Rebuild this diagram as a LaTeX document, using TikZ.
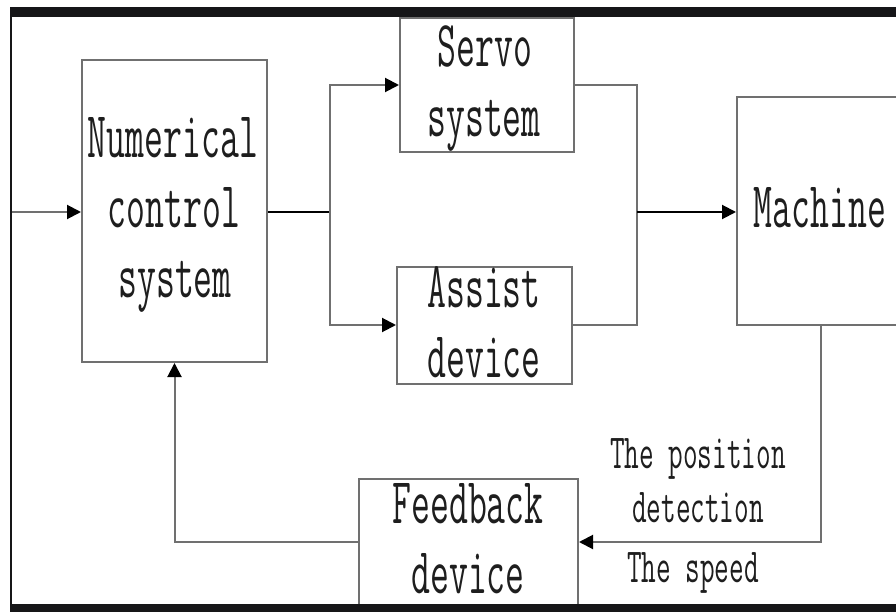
\documentclass[tikz,border=0pt]{standalone}
\usepackage{fontspec}
\newfontfamily\bigf[FakeStretch=0.56]{Latin Modern Mono}
\newfontfamily\smallf[FakeStretch=0.58]{Latin Modern Mono}
\usetikzlibrary{arrows.meta}
\definecolor{linegray}{RGB}{112,112,112}
\definecolor{txt}{RGB}{30,30,30}
\definecolor{framec}{RGB}{22,22,24}
\begin{document}
\begin{tikzpicture}[x=1pt,y=-1pt,
  box/.style={draw=linegray,line width=2pt,rectangle,inner sep=0pt},
  word/.style={text=txt,inner sep=0pt,anchor=base,font=\bigf\fontsize{65.5}{70}\selectfont},
  conn/.style={draw=linegray,line width=2pt},
  arr/.style={draw=linegray,line width=2pt,-{Triangle[length=14pt,width=14pt,color=black]}},
  lbl/.style={text=txt,inner sep=0pt,anchor=base,font=\smallf\fontsize{49}{54}\selectfont}]
\useasboundingbox (0,0) rectangle (896,612);
% boxes
\node[box,minimum width=185pt,minimum height=302pt] (nc) at (174.5,211) {};
\node[box,minimum width=174pt,minimum height=134pt] (servo) at (487,85) {};
\node[box,minimum width=175pt,minimum height=117pt] (assist) at (484.5,325.5) {};
\node[box,minimum width=168pt,minimum height=228pt] (machine) at (821,211) {};
\node[box,minimum width=219pt,minimum height=141pt] (fb) at (468.5,549.5) {};
% box texts
\node[word] (nc1) at (173,158) {Numerical};
\node[word] (nc2) at (174,228) {control};
\node[word] (nc3) at (175,297) {system};
\node[word] (sv1) at (485,67) {Servo};
\node[word] (sv2) at (484,137) {system};
\node[word] (as1) at (484,307) {Assist};
\node[word] (as2) at (484,377) {device};
\node[word] (mc1) at (820,228) {Machine};
\node[word] (fb1) at (468,523) {Feedback};
\node[word] (fb2) at (468,593) {device};
% connectors
\coordinate (in) at (11,212);
\coordinate (split) at (330,212);
\coordinate (merge) at (637,212);
\coordinate (down) at (821,542);
\draw[arr] (in) -- (nc.west |- in);
\draw[conn,draw=black] (nc.east |- split) -- (split);
\draw[arr] (split) |- (servo.west);
\draw[arr] (split) |- (assist.west |- 0,325);
\draw[conn] (servo.east) -| (merge |- 0,325) -- (assist.east |- 0,325);
\draw[arr,draw=black] (merge) -- (machine.west |- merge);
\draw[arr] (machine.south) -- (down) -- (fb.east |- down);
\draw[arr] (fb.west |- down) -| (nc.south);
% labels
\node[lbl] (pos) at (698,468) {The position};
\node[lbl] (det) at (698,522) {detection};
\node[lbl] (spd) at (693,582) {The speed};
% frame
\fill[framec] (10,7) rectangle (896,17);
\fill[framec] (10,7) rectangle (12,612);
\fill[framec] (10,604) rectangle (896,612);
\end{tikzpicture}
\end{document}
